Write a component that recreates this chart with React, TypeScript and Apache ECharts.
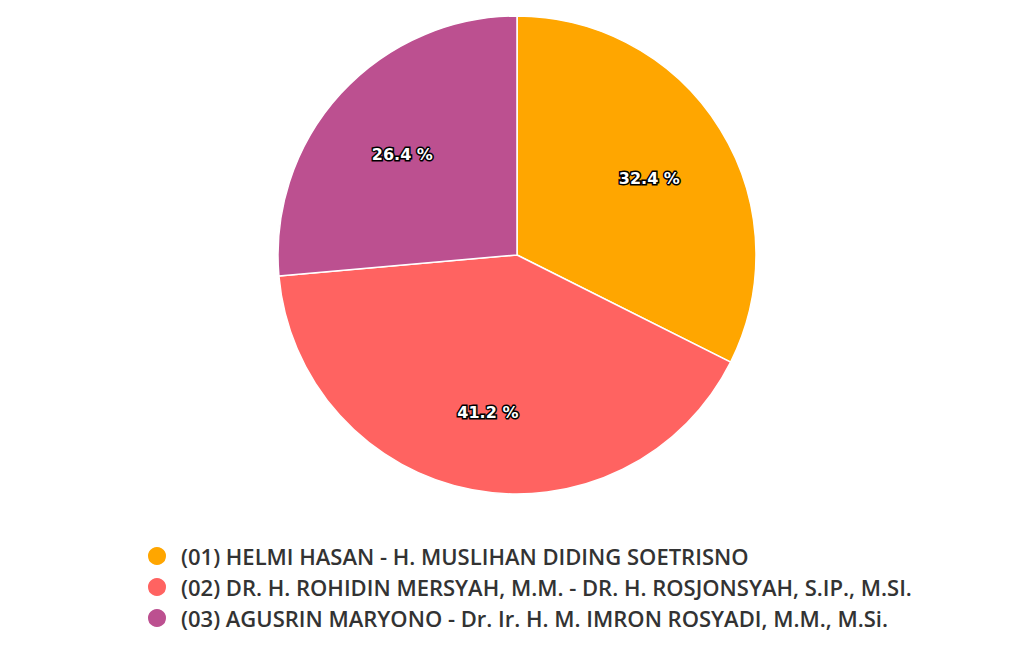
import React, { useEffect, useRef } from 'react';
import * as echarts from 'echarts';

const NAMES = [
  '(01) HELMI HASAN - H. MUSLIHAN DIDING SOETRISNO',
  '(02) DR. H. ROHIDIN MERSYAH, M.M. - DR. H. ROSJONSYAH, S.IP., M.SI.',
  '(03) AGUSRIN MARYONO - Dr. Ir. H. M. IMRON ROSYADI, M.M., M.Si.',
];
const SHARES = [32.4, 41.2, 26.4];
const COLORS = ['#ffa600', '#ff6361', '#bc5090'];

const App = (): JSX.Element => {
  const divEL = useRef(null);

  useEffect(() => {
    const instance = echarts.init(divEL.current as any, null, { renderer: 'svg' });
    const data = NAMES.map((name, i) => ({ name, value: SHARES[i] }));

    const option: echarts.EChartsOption = {
      animation: false,
      color: COLORS,
      legend: {
        orient: 'vertical',
        left: 141,
        top: 540,
        icon: 'circle',
        itemWidth: 20,
        itemHeight: 20,
        itemGap: 9,
        textStyle: {
          fontFamily: 'Open Sans',
          fontWeight: 600,
          fontSize: 22,
          lineHeight: 22,
          color: '#333333',
          padding: [0, 0, 0, 9],
        },
      },
      series: [
        {
          // the pie itself
          type: 'pie',
          center: [517, 255],
          radius: [0, 239],
          startAngle: 90,
          clockwise: true,
          label: { show: false },
          labelLine: { show: false },
          itemStyle: { borderColor: '#ffffff', borderWidth: 1.5 },
          emphasis: { disabled: true },
          data,
        },
        {
          // transparent ring used only to place labels at ~0.64 r
          type: 'pie',
          center: [517, 255],
          radius: [66, 239],
          startAngle: 90,
          clockwise: true,
          silent: true,
          itemStyle: { color: 'transparent', borderWidth: 0 },
          label: {
            show: true,
            position: 'inside',
            formatter: (p: any) => p.value.toFixed(1) + ' %',
            fontFamily: 'DejaVu Sans',
            fontWeight: 'bold',
            fontSize: 16,
            offset: [0, 5],
            color: '#ffffff',
            textBorderColor: '#000000',
            textBorderWidth: 3,
          },
          labelLine: { show: false },
          emphasis: { disabled: true },
          data,
        },
      ],
    };
    instance.setOption(option);

    return () => {
      instance.dispose();
    };
  }, []);

  return (
    <div
      ref={divEL}
      style={{ position: 'absolute', left: 0, top: 0, width: 1024, height: 651 }}
    ></div>
  );
};

export default App;
